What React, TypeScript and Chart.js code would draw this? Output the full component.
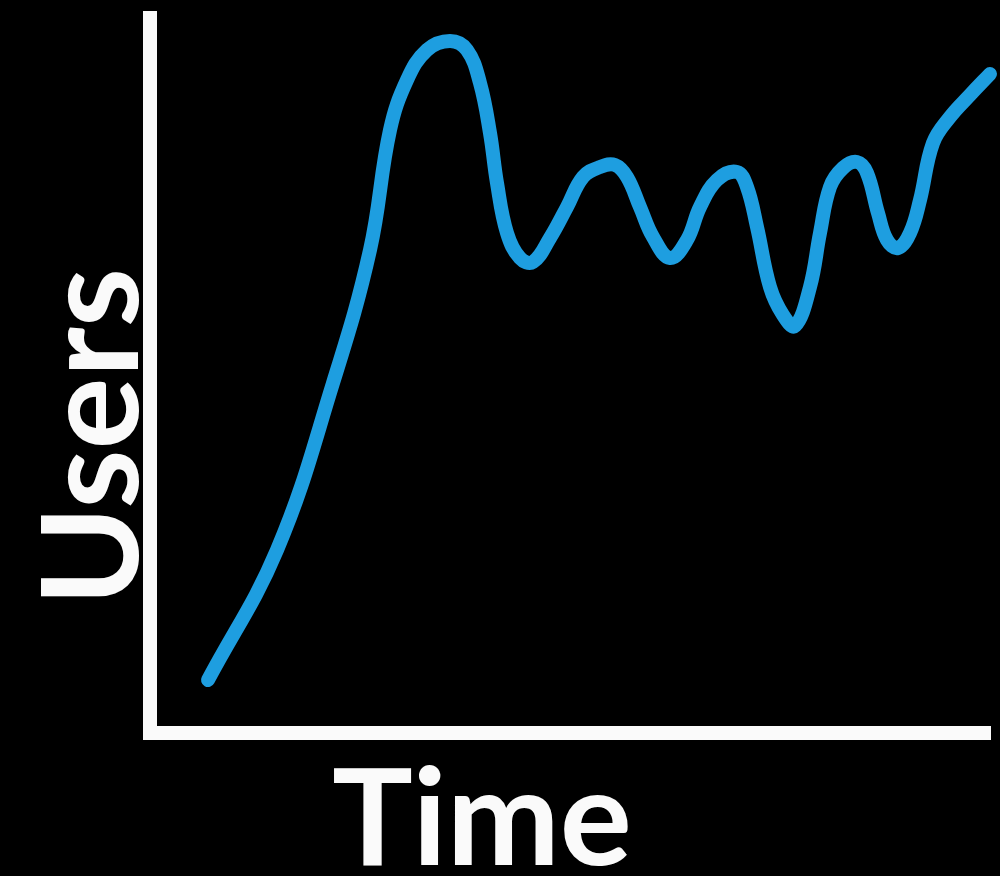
import React, { useEffect, useRef } from "react";
import { Chart, registerables } from "chart.js";

Chart.register(...registerables);

// Time (arbitrary units) and Users (arbitrary units)
const timeValues = [
  5.8, 12.7, 18.3, 22.0, 24.0, 25.7, 27.7, 30.0, 31.7, 33.0, 34.0,
  34.7, 35.7, 37.0, 38.3, 40.0, 41.7, 43.3, 45.0, 46.5, 47.7, 49.0, 50.3, 52.0, 53.7, 55.0, 56.7,
  58.7, 59.7, 60.7, 62.0, 63.3, 64.5, 66.0, 67.0, 68.0, 69.3, 70.7, 71.7, 72.8, 73.7, 74.8, 76.0,
  77.0, 78.3, 80.0, 82.0, 84.0,
];
const userValues = [
  5.3, 18.3, 35.0, 48.3, 60.3, 65.3, 68.3, 69.2, 68.3, 65.0, 60.0,
  55.0, 50.0, 47.5, 47.1, 49.5, 52.6, 55.6, 56.6, 56.8, 55.6, 52.6, 49.6, 47.5, 49.3, 52.6, 55.3,
  56.1, 54.6, 50.6, 44.6, 41.8, 40.7, 44.6, 50.0, 54.6, 56.5, 57.1, 56.0, 52.0, 49.3, 48.5, 50.0,
  53.3, 59.0, 61.6, 63.8, 65.9,
];
const xTitle = "Time";
const yTitle = "Users";

const LINE_BLUE = "#1e9ee0";
const INK = "#fafafa";

const titlesPlugin = {
  id: "sketchTitles",
  afterDraw(chart: any) {
    const ctx = chart.ctx as CanvasRenderingContext2D;
    ctx.save();
    ctx.fillStyle = INK;
    ctx.font = "bold 135px Lato, 'Open Sans', sans-serif";
    ctx.textAlign = "center";
    ctx.textBaseline = "alphabetic";
    ctx.fillText(xTitle, 482, 865);
    ctx.translate(138, 437);
    ctx.rotate(-Math.PI / 2);
    ctx.fillText(yTitle, 0, 0);
    ctx.restore();
  },
};

export default function App() {
  const ref = useRef<HTMLCanvasElement | null>(null);

  useEffect(() => {
    document.body.style.margin = "0";
    document.body.style.background = "#000";
    const canvas = ref.current;
    if (!canvas) return;
    const points = timeValues.map((t, i) => ({ x: t, y: userValues[i] }));
    const chart = new Chart(canvas, {
      type: "line",
      data: {
        datasets: [
          {
            label: yTitle,
            data: points,
            borderColor: LINE_BLUE,
            borderWidth: 14,
            pointRadius: 0,
            tension: 0.4,
            borderCapStyle: "round",
            borderJoinStyle: "round",
            clip: false as any,
          },
        ],
      },
      options: {
        animation: false,
        responsive: false,
        maintainAspectRatio: false,
        layout: { padding: { left: 150, top: 18, right: 10, bottom: 143 } },
        plugins: { legend: { display: false }, tooltip: { enabled: false } },
        scales: {
          x: {
            type: "linear",
            min: 0,
            max: 84,
            ticks: { display: false },
            grid: { display: false, drawTicks: false },
            border: { display: true, color: INK, width: 14 },
          },
          y: {
            type: "linear",
            min: 0,
            max: 71.5,
            ticks: { display: false },
            grid: { display: false, drawTicks: false },
            border: { display: true, color: INK, width: 14 },
          },
        },
      },
      plugins: [titlesPlugin],
    });
    return () => chart.destroy();
  }, []);

  return (
    <div style={{ position: "fixed", left: 0, top: 0, width: 1000, height: 876, background: "#000" }}>
      <canvas ref={ref} width={1000} height={876} style={{ display: "block" }} />
    </div>
  );
}
